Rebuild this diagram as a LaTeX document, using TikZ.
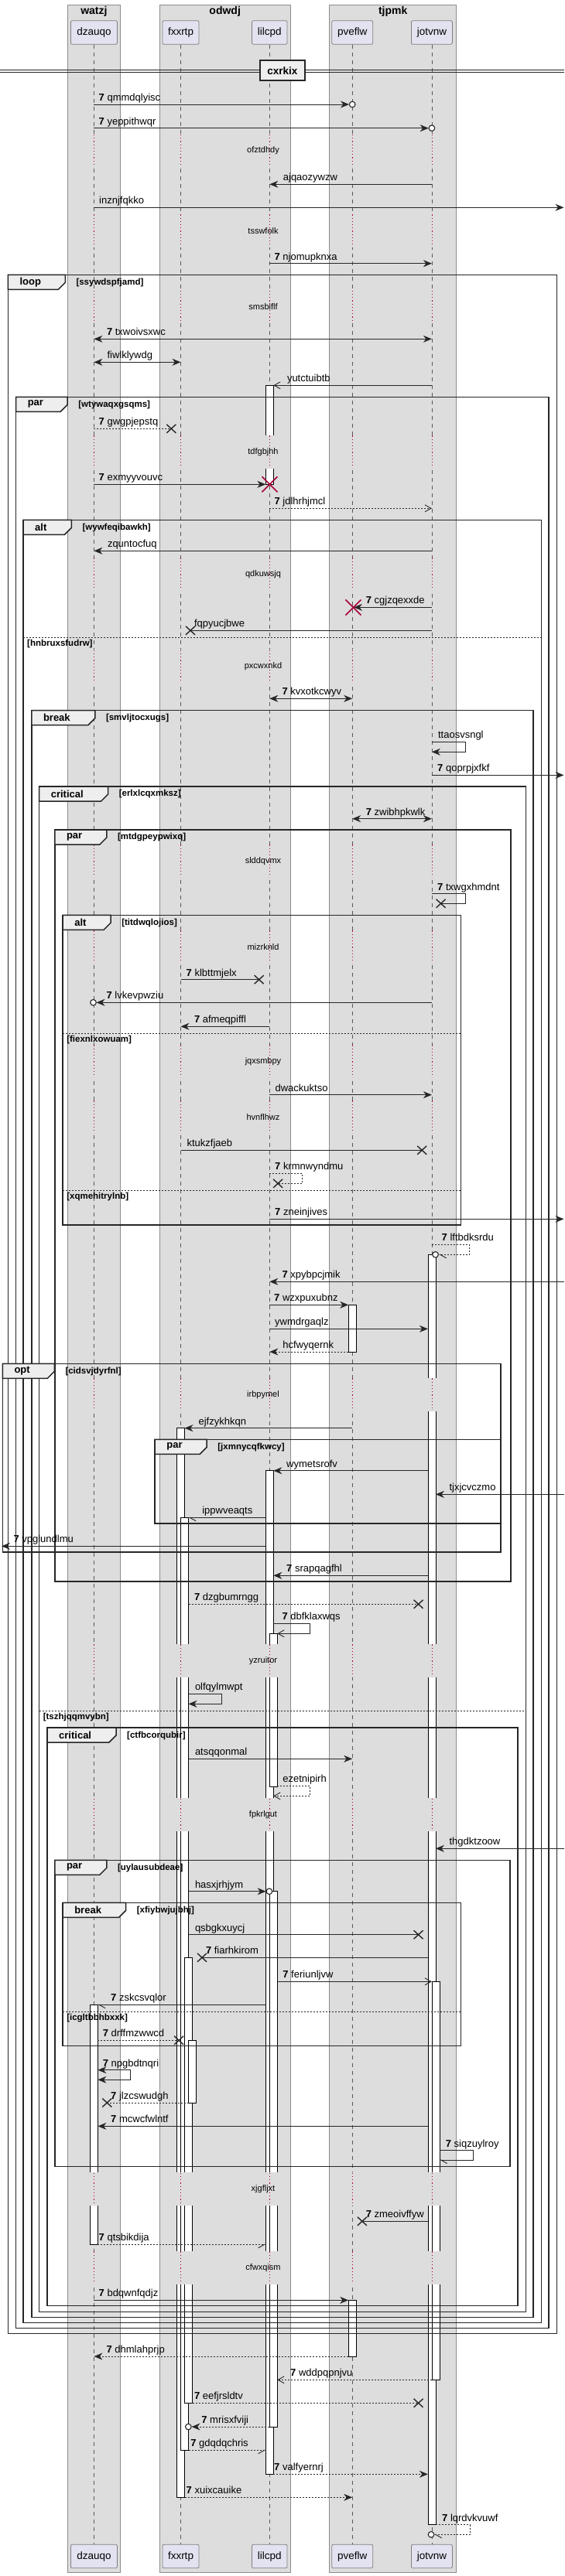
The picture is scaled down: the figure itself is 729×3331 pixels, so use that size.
\documentclass[tikz,border=0pt]{standalone}
\usepackage{fontspec}
\setmainfont{Liberation Sans}
\usetikzlibrary{arrows.meta}

\definecolor{boxbg}{RGB}{221,221,221}
\definecolor{partbg}{RGB}{226,226,240}
\definecolor{tabbg}{RGB}{238,238,238}
\definecolor{delayred}{RGB}{168,0,54}

\tikzset{
  grp/.style={fill=boxbg, draw=black!45, line width=0.6pt},
  grptitle/.style={font=\bfseries\fontsize{14}{16}\selectfont, inner sep=0pt},
  part/.style={fill=partbg, draw=black!50, line width=0.8pt, rounded corners=2pt,
    minimum height=30.6pt, inner sep=0pt, font=\fontsize{13.5}{16}\selectfont},
  life/.style={draw=black!65, line width=0.7pt, dash pattern=on 5pt off 5pt},
  delayline/.style={draw=delayred, line width=0.8pt, dash pattern=on 1.2pt off 3pt},
  delaytxt/.style={font=\fontsize{11}{13}\selectfont, inner sep=0pt},
  actv/.style={fill=white, draw=black, line width=0.8pt},
  frm/.style={draw=black!85, line width=1.5pt},
  tabshape/.style={fill=tabbg, draw=black!85, line width=1.5pt},
  kindtxt/.style={anchor=west, inner sep=0pt, font=\bfseries\fontsize{13}{15}\selectfont},
  condtxt/.style={anchor=west, inner sep=0pt, font=\bfseries\fontsize{11.5}{13}\selectfont},
  elseline/.style={draw=black!85, line width=0.9pt, dash pattern=on 2pt off 2pt},
  divl/.style={draw=black!85, line width=0.9pt},
  divbox/.style={fill=tabbg, draw=black!85, line width=1.5pt, minimum width=58pt,
    minimum height=26pt, inner sep=0pt, font=\bfseries\fontsize{13.5}{16}\selectfont},
  msglbl/.style={anchor=base west, inner sep=0pt, font=\fontsize{13}{15}\selectfont},
  ml/.style={draw=black!85, line width=0.9pt},
  dl/.style={ml, dash pattern=on 2pt off 2pt},
  af/.style={-{Stealth[length=11pt,width=9pt,inset=3.5pt]}},
  ab/.style={{Stealth[length=11pt,width=9pt,inset=3.5pt]}-{Stealth[length=11pt,width=9pt,inset=3.5pt]}},
  ao/.style={-{Straight Barb[length=8pt,width=9pt]}},
  ahl/.style={-{Straight Barb[left,length=8pt,width=9pt]}},
  ahr/.style={-{Straight Barb[right,length=8pt,width=9pt]}},
  xm/.style={draw=black!85, line width=1.4pt},
  rx/.style={draw=delayred, line width=1.6pt},
  ec/.style={fill=white, draw=black!85, line width=1.1pt}
}

% group backgrounds
\newcommand{\boxbgs}{%
  \draw[grp] (87,6) rectangle (155,3326);
  \draw[grp] (206,6) rectangle (375,3326);
  \draw[grp] (425,6) rectangle (589,3326);}
% activation bar: name, left x, top, bottom
\newcommand{\actbar}[4]{%
  \coordinate (#1) at (#2,#3);
  \draw[actv] (#1) rectangle (#2+10,#4);}
% delay band: name, y, text
\newcommand{\delayband}[3]{%
  \begin{scope}
    \clip (0,#2-21) rectangle (729,#2+21);
    \fill[white] (0,#2-21) rectangle (729,#2+21);
    \boxbgs
  \end{scope}
  \foreach \lx in {121.4,233.5,348.3,455.2,557.9}
    \draw[delayline] (\lx,#2-21) -- (\lx,#2+21);
  \node[delaytxt] (#1) at (340,#2) {#3};}
% frame: name, x1, y1, x2, y2, kind, tab width, condition
\newcommand{\sqframe}[8]{%
  \draw[frm] (#2,#3) rectangle (#4,#5);
  \draw[tabshape] (#2,#3) -- (#2+#7,#3) -- (#2+#7,#3+10) -- (#2+#7-9,#3+19) -- (#2,#3+19) -- cycle;
  \node[kindtxt] (#1k) at (#2+15,#3+9.5) {#6};
  \node[condtxt] (#1c) at (#2+#7+14,#3+10) {#8};}
% else separator: name, x1, x2, y, condition
\newcommand{\elsesep}[5]{%
  \draw[elseline] (#2,#4) -- (#3,#4);
  \node[condtxt] (#1) at (#2+5,#4+8) {#5};}
% message: name, x from, x to, y, style, label x, label
\newcommand{\seqmsg}[7]{%
  \coordinate (#1a) at (#2,#4);
  \coordinate (#1b) at (#3,#4);
  \draw[#5] (#1a) -- (#1b);
  \node[msglbl] (#1t) at (#6,#4-4.5) {#7};}
% self message: name, x from, x right, y top, y bottom, x back, style, label x, label
\newcommand{\seqself}[9]{%
  \coordinate (#1a) at (#2,#4);
  \coordinate (#1b) at (#6,#5);
  \draw[#7] (#1a) -- (#3,#4) -- (#3,#5) -- (#1b);
  \node[msglbl] (#1t) at (#8,#4-4.5) {#9};}
\newcommand{\xcross}[2]{\draw[xm] (#1-6,#2-5.5) -- (#1+6,#2+5.5) (#1-6,#2+5.5) -- (#1+6,#2-5.5);}
\newcommand{\redcross}[2]{\draw[rx] (#1-10,#2-10) -- (#1+10,#2+10) (#1-10,#2+10) -- (#1+10,#2-10);}
\newcommand{\tipcirc}[2]{\draw[ec] (#1,#2) circle (3.8pt);}

\begin{document}
\begin{tikzpicture}[x=1pt,y=-1pt]
\useasboundingbox (0,0) rectangle (729,3331);
\fill[white] (0,0) rectangle (729,3331);

% boxes and participants
\boxbgs
\node[grptitle] (gW) at (121.4,14.7) {watzj};
\node[grptitle] (gO) at (290.7,14.7) {odwdj};
\node[grptitle] (gT) at (507.7,14.7) {tjpmk};
\foreach \n/\x/\w/\t in {D/121.4/60pt/dzauqo, F/233.5/47pt/fxxrtp, L/348.3/45.5pt/lilcpd,
                         P/455.2/53pt/pveflw, J/557.9/53pt/jotvnw}{
  \node[part, minimum width=\w] (p\n) at (\x,42) {\t};
  \node[part, minimum width=\w] (q\n) at (\x,3305.5) {\t};
  \draw[life] (p\n.south) -- (q\n.north);
}

% activations
\actbar{a1}{343.3}{498.3}{626.3}
\actbar{a2}{552.9}{1622.3}{3264.7}
\actbar{a3}{450.2}{1687.3}{1748}
\actbar{a4}{228.5}{1846.7}{3229.3}
\actbar{a5}{343.3}{1901.7}{3199.3}
\actbar{a6}{233.5}{1962.3}{3168.3}
\actbar{a7}{348.3}{2112.3}{2310}
\actbar{a8}{348.3}{2445.7}{3138}
\actbar{a9}{238.5}{2531.3}{3107.3}
\actbar{a10}{557.9}{2562.3}{3077.3}
\actbar{a11}{116.4}{2592.3}{2902.3}
\actbar{a12}{243.5}{2638.3}{2719}
\actbar{a13}{450.2}{2974.3}{3047}

% delays
\delayband{d1}{195}{ofztdhdy}
\delayband{d2}{298.3}{tsswfolk}
\delayband{d3}{396.7}{smsbiflf}
\delayband{d4}{584.3}{tdfgbjhh}
\delayband{d5}{742.3}{qdkuwsjq}
\delayband{d6}{861.7}{pxcwxnkd}
\delayband{d7}{1113.3}{slddqvmx}
\delayband{d8}{1224.3}{mizrknld}
\delayband{d9}{1372.3}{jqxsmbpy}
\delayband{d10}{1444.3}{hvnflhwz}
\delayband{d11}{1803.3}{irbpymel}
\delayband{d12}{2147.3}{yzruitor}
\delayband{d13}{2346.7}{fpkrlgut}
\delayband{d14}{2830.7}{xjgfljxt}
\delayband{d15}{2932.3}{cfwxqism}

% divider
\draw[divl] (0,90) -- (729,90);
\draw[divl] (0,93.3) -- (729,93.3);
\node[divbox] (dv) at (364.8,91.2) {cxrkix};

% frames
\sqframe{fLoop}{10.3}{355.3}{719.6}{3017.3}{loop}{74}{[ssywdspfjamd]}
\sqframe{fParA}{20.6}{513.3}{708.9}{3010.3}{par}{66.6}{[wtywaqxgsqms]}
\sqframe{fAltA}{30}{672.3}{699.5}{3003.7}{alt}{62.4}{[wywfeqibawkh]}
\elsesep{eAltA}{30}{699.5}{824.3}{[hnbruxsfudrw]}
\sqframe{fBrkA}{40.8}{918.7}{689.2}{2996.7}{break}{82}{[smvljtocxugs]}
\sqframe{fCrtA}{50.6}{1017}{679.3}{2989.3}{critical}{89}{[erlxlcqxmksz]}
\elsesep{eCrtA}{50.6}{679.3}{2212.3}{[tszhjqqmvybn]}
\sqframe{fParB}{70.8}{1073}{660.1}{2045}{par}{67}{[mtdgpeypwixq]}
\sqframe{fAltB}{81.1}{1183.3}{595.4}{1584}{alt}{62}{[titdwqlojios]}
\elsesep{eAltB1}{81.1}{595.4}{1336.3}{[fiexnlxowuam]}
\elsesep{eAltB2}{81.1}{595.4}{1539.3}{[xqmehitrylnb]}
\sqframe{fOpt}{3.3}{1763.3}{647}{2007}{opt}{67}{[cidsvjdyrfnl]}
\sqframe{fParC}{200.2}{1861.3}{647}{1970}{par}{67}{[jxmnycqfkwcy]}
\sqframe{fCrtB}{61}{2234}{669}{2981.7}{critical}{89}{[ctfbcorqubir]}
\sqframe{fParD}{70.8}{2405.3}{659.2}{2801.3}{par}{67}{[uylausubdeae]}
\sqframe{fBrkB}{81.1}{2460.3}{595.4}{2645.7}{break}{81.6}{[xfiybwjujbhj]}
\elsesep{eBrkB}{81.1}{595.4}{2601.7}{[icgltbbhbxxk]}

% messages
\seqmsg{m1}{121.4}{451}{135}{ml,af}{127.5}{\textbf{7} qmmdqlyisc}
\tipcirc{455.2}{135}
\seqmsg{m2}{121.4}{553.7}{165.7}{ml,af}{127.5}{\textbf{7} yeppithwqr}
\tipcirc{557.9}{165.7}
\seqmsg{m3}{557.9}{348.3}{238.3}{ml,af}{365.7}{ajqaozywzw}
\seqmsg{m4}{121.4}{728.5}{268.3}{ml,af}{128}{inznjfqkko}
\seqmsg{m5}{348.3}{557.9}{340.7}{ml,af}{354.4}{\textbf{7} njomupknxa}
\seqmsg{m6}{121.4}{557.9}{438.3}{ml,ab}{137.8}{\textbf{7} txwoivsxwc}
\seqmsg{m7}{121.4}{233.5}{468.3}{ml,ab}{138.3}{fiwlklywdg}
\seqmsg{m8}{557.9}{353.3}{498.3}{ml,ao}{370.8}{yutctuibtb}
\seqmsg{m9}{121.4}{221.3}{554.3}{dl}{127.5}{\textbf{7} gwgpjepstq}
\xcross{221.3}{554.3}
\seqmsg{m10}{121.4}{343.3}{626.3}{ml,af}{127.5}{\textbf{7} exmyyvouvc}
\redcross{348.5}{626.3}
\seqmsg{m11}{348.3}{557.9}{657.3}{dl,ao}{354.4}{\textbf{7} jdlhrhjmcl}
\seqmsg{m12}{557.9}{121.4}{712.3}{ml,af}{138.8}{zquntocfuq}
\seqmsg{m13}{557.9}{457}{785.3}{ml,af}{472.6}{\textbf{7} cgjzqexxde}
\redcross{456.4}{785.5}
\seqmsg{m14}{557.9}{246}{815.3}{ml}{250.8}{fqpyucjbwe}
\xcross{246}{815.3}
\seqmsg{m15}{348.3}{455.2}{903.3}{ml,ab}{364.3}{\textbf{7} kvxotkcwyv}
\seqself{m16}{557.9}{601.5}{959.3}{972.3}{557.9}{ml,af}{565.9}{ttaosvsngl}
\seqmsg{m17}{557.9}{728.5}{1002.3}{ml,af}{565}{\textbf{7} qoprpjxfkf}
\seqmsg{m18}{455.2}{557.9}{1058.7}{ml,ab}{472.6}{\textbf{7} zwibhpkwlk}
\seqself{m19}{557.9}{601.5}{1155.7}{1168.3}{569.6}{ml}{565}{\textbf{7} txwgxhmdnt}
\xcross{569.6}{1168.3}
\seqmsg{m20}{233.5}{334.7}{1266.7}{ml}{240.5}{\textbf{7} klbttmjelx}
\xcross{334.7}{1266.7}
\seqmsg{m21}{557.9}{124.5}{1296.3}{ml,af}{137.4}{\textbf{7} lvkevpwziu}
\tipcirc{120.5}{1296.3}
\seqmsg{m22}{348.3}{233.5}{1327.3}{ml,af}{250.8}{\textbf{7} afmeqpiffl}
\seqmsg{m23}{348.3}{557.9}{1415.7}{ml,af}{355.4}{dwackuktso}
\seqmsg{m24}{233.5}{545.2}{1487.3}{ml}{241.4}{ktukzfjaeb}
\xcross{545.2}{1487.3}
\seqself{m25}{348.3}{390.5}{1517.3}{1530.3}{359.1}{dl}{355}{\textbf{7} krmnwyndmu}
\xcross{359.1}{1530.3}
\seqmsg{m26}{348.3}{728.5}{1576.3}{ml,af}{355}{\textbf{7} zneinjives}
\seqself{m27}{557.9}{606.2}{1609.3}{1622.3}{567}{dl,ahl}{570.5}{\textbf{7} lftbdksrdu}
\tipcirc{562.6}{1622.3}
\seqmsg{m28}{729}{348.3}{1657.3}{ml,af}{364.3}{\textbf{7} xpybpcjmik}
\seqmsg{m29}{348.3}{450.2}{1687.3}{ml,af}{354}{\textbf{7} wzxpuxubnz}
\seqmsg{m30}{348.3}{552.9}{1718.3}{ml,af}{355}{ywmdrgaqlz}
\seqmsg{m31}{450.2}{348.3}{1748}{dl,af}{365.2}{hcfwyqernk}
\seqmsg{m32}{455.2}{238.5}{1846.7}{ml,af}{256.4}{ejfzykhkqn}
\seqmsg{m33}{552.9}{353.3}{1901.7}{ml,af}{370}{wymetsrofv}
\seqmsg{m34}{729}{562.9}{1932.3}{ml,af}{580.4}{tjxjcvczmo}
\seqmsg{m35}{343.3}{243.5}{1962.3}{ml,ahl}{261.1}{ippwveaqts}
\seqmsg{m36}{343.3}{2}{1999.3}{ml,af}{17.3}{\textbf{7} vpglundlmu}
\seqmsg{m37}{552.9}{353.3}{2037.3}{ml,af}{370}{\textbf{7} srapqagfhl}
\seqmsg{m38}{243.5}{540.6}{2074.3}{dl}{250.8}{\textbf{7} dzgbumrngg}
\xcross{540.6}{2074.3}
\seqself{m39}{353.3}{400.8}{2099.3}{2112.3}{358.3}{ml,ao}{364.3}{\textbf{7} dbfklaxwqs}
\seqself{m40}{243.5}{286.9}{2190.3}{2203.3}{243.5}{ml,af}{251.8}{olfqylmwpt}
\seqmsg{m41}{243.5}{455.2}{2274.3}{ml,af}{251.8}{atsqqonmal}
\seqself{m42}{358.3}{400.8}{2309.3}{2322.3}{353.3}{dl,ao}{365.2}{ezetnipirh}
\seqmsg{m43}{729}{562.9}{2390.3}{ml,af}{580.4}{thgdktzoow}
\seqmsg{m44}{243.5}{343.6}{2445.7}{ml,af}{251.8}{hasxjrhjym}
\tipcirc{347.9}{2445.7}
\seqmsg{m45}{243.5}{540.6}{2501.7}{ml}{251.8}{qsbgkxuycj}
\xcross{540.6}{2501.7}
\seqmsg{m46}{552.9}{261}{2531.3}{ml}{265.8}{\textbf{7} fiarhkirom}
\xcross{261}{2531.3}
\seqmsg{m47}{358.3}{557.9}{2562.3}{ml,ao}{365.2}{\textbf{7} feriunljvw}
\seqmsg{m48}{343.3}{126.4}{2592.3}{ml,ahl}{143}{\textbf{7} zskcsvqlor}
\seqmsg{m49}{126.4}{231.1}{2638.3}{dl}{132.7}{\textbf{7} drffmzwwcd}
\xcross{231.1}{2638.3}
\seqself{m50}{126.4}{168.8}{2676.7}{2689.3}{126.4}{ml,ab}{132.7}{\textbf{7} npgbdtnqri}
\seqmsg{m51}{243.5}{138.3}{2719}{dl}{143}{\textbf{7} jlzcswudgh}
\xcross{138.3}{2719}
\seqmsg{m52}{552.9}{126.4}{2749.3}{ml,af}{143}{\textbf{7} mcwcfwlntf}
\seqself{m53}{567.9}{611.8}{2780.7}{2793}{567.9}{ml,ahl}{575.7}{\textbf{7} siqzuylroy}
\seqmsg{m54}{552.9}{467.9}{2872.3}{ml}{472.6}{\textbf{7} zmeoivffyw}
\xcross{467.9}{2872.3}
\seqmsg{m55}{126.4}{343.3}{2902.3}{dl,ahr}{127.5}{\textbf{7} qtsbikdija}
\seqmsg{m56}{121.4}{450.2}{2974.3}{ml,af}{127.5}{\textbf{7} bdqwnfqdjz}
\seqmsg{m57}{450.2}{121.4}{3047}{dl,af}{137.4}{\textbf{7} dhmlahprjp}
\seqmsg{m58}{557.9}{358.3}{3077.3}{dl,ao}{375}{\textbf{7} wddpqpnjvu}
\seqmsg{m59}{248.5}{540.6}{3107.3}{dl}{250.8}{\textbf{7} eefjrsldtv}
\xcross{540.6}{3107.3}
\seqmsg{m60}{348.3}{247.5}{3138}{dl,af}{260.2}{\textbf{7} mrisxfviji}
\tipcirc{243.3}{3138}
\seqmsg{m61}{243.5}{343.3}{3168.3}{dl,ahr}{246.1}{\textbf{7} gdqdqchris}
\seqmsg{m62}{353.3}{552.9}{3199.3}{dl,af}{354}{\textbf{7} valfyernrj}
\seqmsg{m63}{238.5}{455.2}{3229.3}{dl,af}{240.5}{\textbf{7} xuixcauike}
\seqself{m64}{562.9}{607}{3264.7}{3277.3}{561}{dl,ahl}{571}{\textbf{7} lqrdvkvuwf}
\tipcirc{557}{3277.3}

\end{tikzpicture}
\end{document}
